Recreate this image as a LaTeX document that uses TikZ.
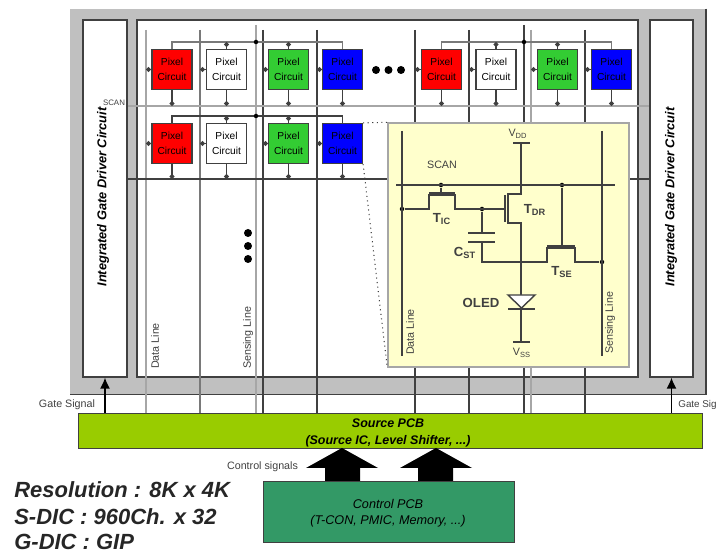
\documentclass[tikz,border=0pt]{standalone}
\usepackage{fontspec}
\setmainfont{Liberation Sans}
\usetikzlibrary{arrows.meta,positioning,shapes.geometric}
\definecolor{PanelGray}{HTML}{C0C0C0}
\definecolor{EdgeDark}{HTML}{404040}
\definecolor{LineGray}{HTML}{A6A6A6}
\definecolor{PixelRed}{HTML}{FF0000}
\definecolor{PixelGreen}{HTML}{33CC33}
\definecolor{PixelBlue}{HTML}{0000FF}
\definecolor{InsetYellow}{HTML}{FFFFCC}
\definecolor{SourceGreen}{HTML}{99CC00}
\definecolor{ControlGreen}{HTML}{339966}
\newcommand{\sz}[1]{\fontsize{#1}{#1}\selectfont}

\begin{document}
\begin{tikzpicture}[
    x=0.02cm, y=-0.02cm,
    panel/.style={fill=PanelGray, minimum width=12.72cm, minimum height=7.7cm, inner sep=0pt},
    frame/.style={draw=EdgeDark, fill=white, line width=0.7pt, inner sep=0pt},
    pixel/.style={draw=EdgeDark, line width=0.7pt, minimum width=0.8cm, minimum height=0.8cm, inner sep=0pt, align=center, font=\sz{5.8}, text=black},
    dline/.style={draw=EdgeDark, line width=0.7pt},
    gline/.style={draw=LineGray, line width=1pt},
    tap/.style={-{Circle[length=1mm]}, draw=EdgeDark, line width=0.6pt},
    wire/.style={draw=EdgeDark, line width=0.8pt},
    dot/.style={circle, fill=black, inner sep=0pt, minimum size=0.16cm},
    jn/.style={circle, fill=black, inner sep=0pt, minimum size=0.09cm},
    small/.style={font=\sz{6.1}, text=EdgeDark, inner sep=0pt},
    part/.style={font=\sz{7.5}\bfseries, text=EdgeDark, inner sep=0pt},
    bigarr/.style={fill=black},
    sig/.style={-{Latex[length=2.2mm,width=2mm]}, draw=black, line width=0.9pt}
  ]
    \useasboundingbox (0,0) rectangle (718,553);

    \node[panel] (panel) at (388,201.5) {};
    \draw[draw=EdgeDark, line width=0.9pt] (panel.north east) -- (panel.south east) -- (panel.south west);

    \node[frame, minimum width=0.88cm, minimum height=7.14cm] (gateL) at (105,198.5) {};
    \node[frame, minimum width=10.02cm, minimum height=7.14cm] (array) at (387.5,198.5) {};
    \node[frame, minimum width=0.86cm, minimum height=7.14cm] (gateR) at (671.5,198.5) {};
    \node[rotate=90, font=\sz{7.3}\itshape\bfseries, inner sep=0pt] (gateTextL) at (103,197) {Integrated Gate Driver Circuit};
    \node[rotate=90, font=\sz{7.3}\itshape\bfseries, inner sep=0pt] (gateTextR) at (671,197) {Integrated Gate Driver Circuit};

    \node[draw=EdgeDark, fill=SourceGreen, minimum width=12.48cm, minimum height=0.7cm, inner sep=0pt] (source) at (390,430.5) {};
    \node[font=\sz{7.1}\itshape\bfseries, align=center, inner sep=0pt] (sourceText) at (388,433) {Source PCB\\[2.6pt](Source IC, Level Shifter, ...)};
    \node[draw=EdgeDark, fill=ControlGreen, minimum width=5.02cm, minimum height=1.22cm, inner sep=0pt] (control) at (389,511.5) {};
    \node[font=\sz{7.2}\itshape, align=center, inner sep=0pt] (controlText) at (388,513) {Control PCB\\[2pt](T-CON, PMIC, Memory, ...)};

    \coordinate (d1) at (146,30);
    \coordinate (d2) at (200,30);
    \coordinate (d3) at (256,25);
    \coordinate (d4) at (263,30);
    \coordinate (d5) at (317,30);
    \coordinate (d6) at (415,30);
    \coordinate (d7) at (469,30);
    \coordinate (d8) at (524,25);
    \coordinate (d9) at (531,30);
    \coordinate (d10) at (585,30);
    \coordinate (scanA) at (388,106);
    \coordinate (scanB) at (388,179);
    \coordinate (busA) at (258,42);
    \coordinate (busB) at (258,116);
    \coordinate (busC) at (527,42);

    \draw[gline] (d1) -- (d1 |- source.north);
    \draw[dline, draw=EdgeDark!70] (d2) -- (d2 |- source.north);
    \draw[gline, line width=1.3pt] (d3) -- (d3 |- source.north);
    \draw[dline] (d4) -- (d4 |- source.north);
    \draw[dline] (d5) -- (d5 |- source.north);
    \draw[dline] (d6) -- (d6 |- source.north);
    \draw[dline] (d7) -- (d7 |- source.north);
    \draw[dline, line width=1pt] (d8) -- (d8 |- source.north);
    \draw[gline, line width=0.7pt] (d9) -- (d9 |- source.north);
    \draw[dline] (d10) -- (d10 |- source.north);
    \draw[gline] (gateL.east |- scanA) -- (gateR.west |- scanA);
    \draw[dline] (gateL.east |- scanB) -- (gateR.west |- scanB);

    \node[pixel, fill=PixelRed] (p11) at (172,69.5) {Pixel\\[2.8pt]Circuit};
    \node[pixel, fill=white] (p12) at (226.5,69.5) {Pixel\\[2.8pt]Circuit};
    \node[pixel, fill=PixelGreen] (p13) at (288.5,69.5) {Pixel\\[2.8pt]Circuit};
    \node[pixel, fill=PixelBlue] (p14) at (342.5,69.5) {Pixel\\[2.8pt]Circuit};
    \node[pixel, fill=PixelRed] (p15) at (441.5,69.5) {Pixel\\[2.8pt]Circuit};
    \node[pixel, fill=white] (p16) at (496,69.5) {Pixel\\[2.8pt]Circuit};
    \node[pixel, fill=PixelGreen] (p17) at (557.5,69.5) {Pixel\\[2.8pt]Circuit};
    \node[pixel, fill=PixelBlue] (p18) at (611.5,69.5) {Pixel\\[2.8pt]Circuit};
    \node[pixel, fill=PixelRed] (p21) at (172,143.5) {Pixel\\[2.8pt]Circuit};
    \node[pixel, fill=white] (p22) at (226.5,143.5) {Pixel\\[2.8pt]Circuit};
    \node[pixel, fill=PixelGreen] (p23) at (288.5,143.5) {Pixel\\[2.8pt]Circuit};
    \node[pixel, fill=PixelBlue] (p24) at (342.5,143.5) {Pixel\\[2.8pt]Circuit};

    \draw[dline, draw=EdgeDark!70] (p11.north) |- (busA) -| (p14.north);
    \draw[dline] (p21.north) |- (busB) -| (p24.north);
    \draw[dline, draw=EdgeDark!70] (p15.north) |- (busC) -| (p18.north);
    \node[jn] (tieA) at (d3 |- busA) {};
    \node[jn] (tieB) at (d3 |- busB) {};
    \node[jn] (tieC) at (d8 |- busC) {};

    \draw[tap] (p11.west) -- (p11.west -| d1);
    \draw[tap] (p12.west) -- (p12.west -| d2);
    \draw[tap] (p13.west) -- (p13.west -| d4);
    \draw[tap] (p14.west) -- (p14.west -| d5);
    \draw[tap] (p15.west) -- (p15.west -| d6);
    \draw[tap] (p16.west) -- (p16.west -| d7);
    \draw[tap] (p17.west) -- (p17.west -| d9);
    \draw[tap] (p18.west) -- (p18.west -| d10);
    \draw[tap] (p21.west) -- (p21.west -| d1);
    \draw[tap] (p22.west) -- (p22.west -| d2);
    \draw[tap] (p23.west) -- (p23.west -| d4);
    \draw[tap] (p24.west) -- (p24.west -| d5);

    \draw[tap] (p11.south) -- (p11.south |- scanA);
    \draw[tap] (p12.south) -- (p12.south |- scanA);
    \draw[tap] (p13.south) -- (p13.south |- scanA);
    \draw[tap] (p14.south) -- (p14.south |- scanA);
    \draw[tap] (p15.south) -- (p15.south |- scanA);
    \draw[tap] (p16.south) -- (p16.south |- scanA);
    \draw[tap] (p17.south) -- (p17.south |- scanA);
    \draw[tap] (p18.south) -- (p18.south |- scanA);
    \draw[tap] (p21.south) -- (p21.south |- scanB);
    \draw[tap] (p22.south) -- (p22.south |- scanB);
    \draw[tap] (p23.south) -- (p23.south |- scanB);
    \draw[tap] (p24.south) -- (p24.south |- scanB);

    \draw[tap] (p12.north) -- (p12.north |- busA);
    \draw[tap] (p13.north) -- (p13.north |- busA);
    \draw[tap] (p16.north) -- (p16.north |- busC);
    \draw[tap] (p17.north) -- (p17.north |- busC);
    \draw[tap] (p22.north) -- (p22.north |- busB);
    \draw[tap] (p23.north) -- (p23.north |- busB);

    \node[dot] (dotH1) at (376,70) {};
    \node[dot] (dotH2) at (388.5,70) {};
    \node[dot] (dotH3) at (401,70) {};
    \node[dot] (dotV1) at (248,233) {};
    \node[dot] (dotV2) at (248,246) {};
    \node[dot] (dotV3) at (248,259) {};

    \node[small, font=\sz{4.5}] (scanText) at (114,103) {SCAN};
    \node[small, rotate=90] (dataText) at (155,346) {Data Line};
    \node[small, rotate=90] (senseText) at (248,338) {Sensing Line};

    \node[draw=LineGray, fill=InsetYellow, line width=0.8pt, minimum width=4.82cm, minimum height=4.88cm, inner sep=0pt] (inset) at (508.5,245) {};
    \draw[dotted, draw=EdgeDark, line width=0.6pt] (p24.north east) -- (inset.north west);
    \draw[dotted, draw=EdgeDark, line width=0.6pt] (p24.south east) -- (inset.south west);

    \coordinate (dataT) at (402,131);
    \coordinate (dataB) at (402,356);
    \coordinate (senseT) at (602,131);
    \coordinate (senseB) at (602,356);
    \coordinate (scanL) at (396,185);
    \coordinate (scanR) at (615,185);
    \coordinate (vddL) at (513,143);
    \coordinate (vddR) at (530,143);
    \coordinate (vssL) at (513,342);
    \coordinate (vssR) at (530,342);
    \node[jn] (dataJn) at (402,209) {};
    \node[jn] (gateJn) at (482,209) {};
    \node[jn] (scanJnA) at (441,185) {};
    \node[jn] (scanJnB) at (562,185) {};
    \node[jn, minimum size=0.07cm] (oledJn) at (521,262) {};
    \node[jn] (senseJn) at (602,262) {};

    \draw[wire] (dataT) -- (dataB);
    \draw[wire] (senseT) -- (senseB);
    \draw[wire] (scanL) -- (scanR);
    \draw[wire] (vddL) -- (vddR);
    \draw[wire] (vssL) -- (vssR);
    \draw[wire] (521,143) -- (521,194) -- (508,194) -- (508,223) -- (521,223) -- (521,295);
    \draw[wire, line width=1pt] (505,195) -- (505,222);
    \draw[wire] (dataJn) -- (429,209) -- (429,195) -- (455,195) -- (455,209) -- (505,209);
    \draw[wire, line width=1pt] (429,193) -- (455,193);
    \draw[wire] (scanJnA) -- (441,193);
    \draw[wire] (gateJn) -- (482,233);
    \draw[wire, draw=EdgeDark, line width=1pt] (468,233) -- (495,233);
    \draw[wire, draw=EdgeDark, line width=1pt] (468,242) -- (495,242);
    \draw[wire] (482,242) -- (482,262) -- (547,262) -- (547,248) -- (575,248) -- (575,262) -- (senseJn);
    \draw[wire, line width=1pt] (547,246) -- (575,246);
    \draw[wire] (scanJnB) -- (562,246);
    \draw[wire, fill=white] (508,295) -- (535,295) -- (521.5,308) -- cycle;
    \draw[wire, line width=1.2pt] (508,309) -- (535,309);
    \draw[wire] (521,309) -- (521,342);

    \node[small] (vddText) at (518,134) {V\textsubscript{DD}};
    \node[small] (scanInner) at (442,165) {SCAN};
    \node[part] (ticText) at (442,219) {T\textsubscript{IC}};
    \node[part] (tdrText) at (535,210) {T\textsubscript{DR}};
    \node[part] (cstText) at (465,253) {C\textsubscript{ST}};
    \node[part] (tseText) at (562,272) {T\textsubscript{SE}};
    \node[part] (oledText) at (481,303) {OLED};
    \node[small] (vssText) at (522,353) {V\textsubscript{SS}};
    \node[small, rotate=90] (dataInner) at (410,332) {Data Line};
    \node[small, rotate=90] (senseInner) at (610,323) {Sensing Line};

    \draw[sig] (gateL.south |- source.north) -- (gateL.south);
    \draw[sig] (gateR.south |- source.north) -- (gateR.south);
    \node[small] (gateSigL) at (67,405) {Gate Signal};
    \node[small, anchor=west, font=\sz{5.6}] (gateSigR) at (678,405) {Gate Sig};
    \node[small] (ctrlSig) at (262.5,467) {Control signals};

    \coordinate (tipA) at (342,448);
    \coordinate (tipB) at (436,448);
    \fill[bigarr] (tipA) -- (378,468) -- (360,468) -- (360,481) -- (325,481) -- (325,468) -- (306,468) -- cycle;
    \fill[bigarr] (tipB) -- (472,468) -- (453,468) -- (453,481) -- (418,481) -- (418,468) -- (400,468) -- cycle;

    \node[anchor=base west, font=\sz{12.5}\itshape\bfseries, text=black!85, inner sep=0pt] (resText) at (14,498) {Resolution : 8K x 4K};
    \node[anchor=base west, font=\sz{12.5}\itshape\bfseries, text=black!85, inner sep=0pt] (sdicText) at (14,525) {S-DIC : 960Ch. x 32};
    \node[anchor=base west, font=\sz{12.5}\itshape\bfseries, text=black!85, inner sep=0pt] (gdicText) at (14,550) {G-DIC : GIP};
  \end{tikzpicture}
\end{document}
